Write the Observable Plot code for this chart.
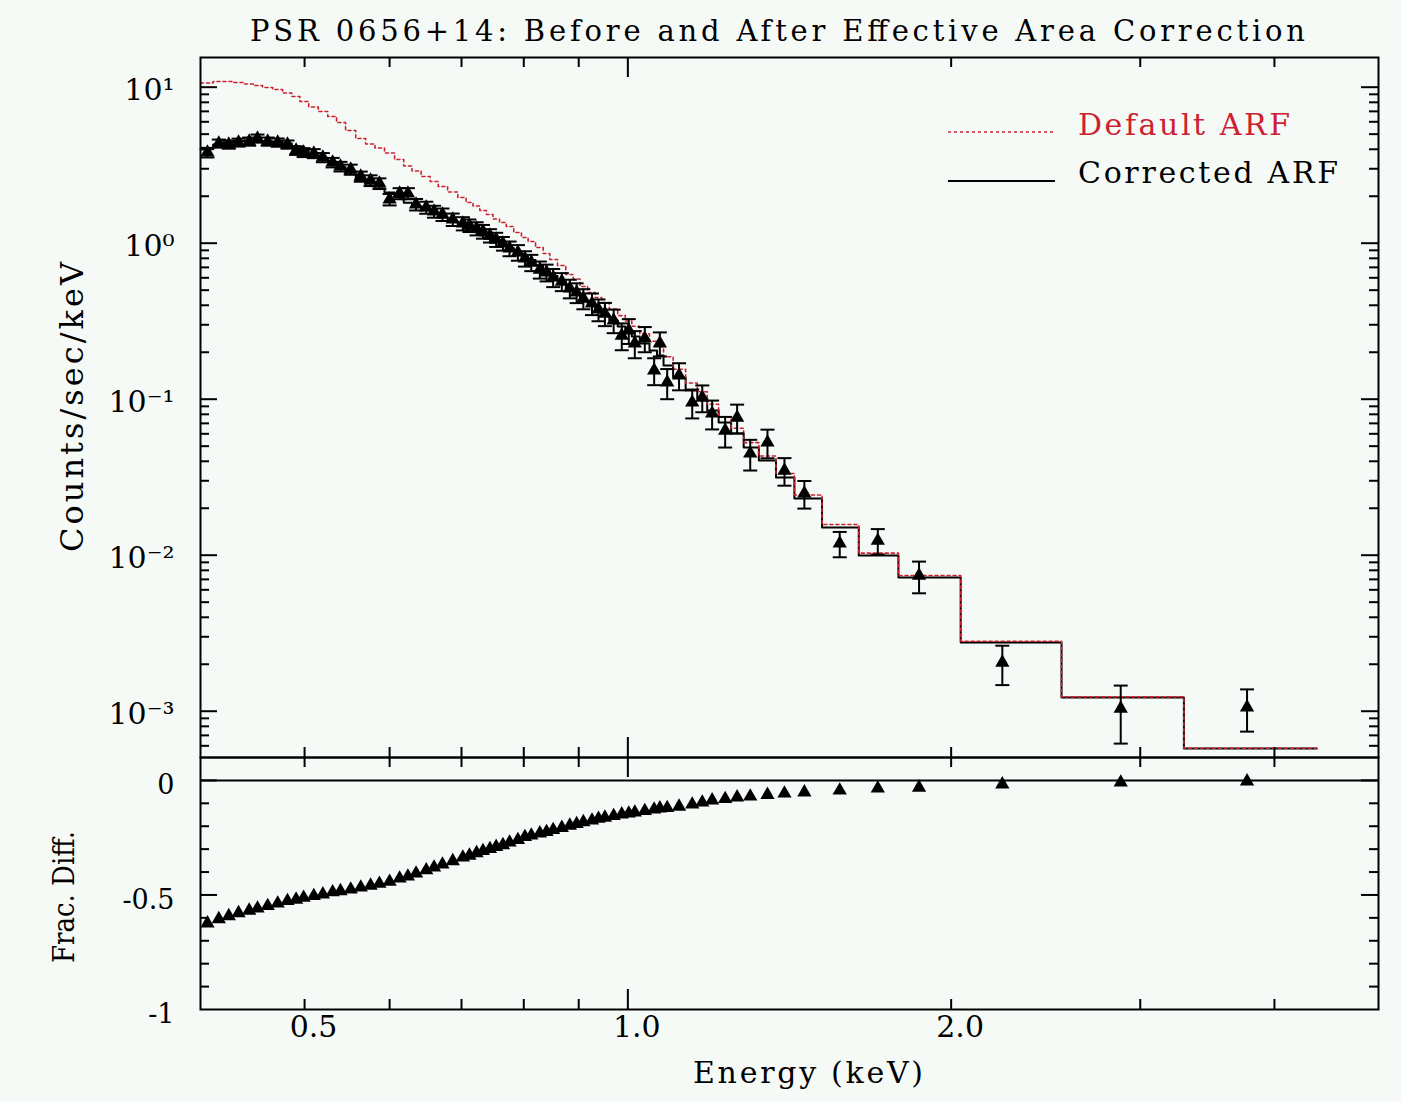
<!DOCTYPE html>
<html><head><meta charset="utf-8">
<script src="https://cdn.jsdelivr.net/npm/d3@7"></script>
<script src="https://cdn.jsdelivr.net/npm/@observablehq/plot@0.6"></script>
<style>
html,body{margin:0;padding:0;background:#f6faf7;}
#root{position:relative;width:1401px;height:1102px;background:#f6faf7;overflow:hidden;font-family:"DejaVu Serif",serif;}
#root > svg{position:absolute;left:0;}
</style></head>
<body><div id="root"></div>
<script>
// ---------------- data ----------------
const energy = [0.406,0.416,0.425,0.434,0.444,0.452,0.462,0.472,0.482,0.491,
  0.499,0.510,0.520,0.531,0.540,0.552,0.564,0.576,0.587,0.600,
  0.613,0.624,0.635,0.649,0.660,0.672,0.687,0.702,0.712,0.723,
  0.733,0.744,0.754,0.765,0.776,0.790,0.802,0.813,0.828,0.840,
  0.852,0.868,0.883,0.896,0.909,0.926,0.939,0.952,0.970,0.987,
  1.002,1.015,1.037,1.058,1.071,1.088,1.116,1.148,1.173,1.198,
  1.232,1.264,1.300,1.349,1.399,1.460,1.575,1.709,1.867,2.232,2.877,3.772];

const counts = [3.815,4.356,4.293,4.421,4.486,4.690,4.486,4.421,4.293,3.929,
  3.815,3.758,3.543,3.291,3.102,2.968,2.677,2.523,2.414,1.906,
  2.083,2.083,1.771,1.694,1.597,1.528,1.419,1.338,1.299,1.242,
  1.189,1.120,1.056,0.996,0.925,0.872,0.798,0.752,0.678,0.649,
  0.603,0.568,0.513,0.483,0.442,0.411,0.376,0.354,0.320,0.256,
  0.276,0.228,0.245,0.153,0.228,0.128,0.142,0.0953,0.1025,0.081,
  0.063,0.0763,0.0449,0.0528,0.0349,0.0249,0.0119,0.0124,0.0074,0.00205,0.00104,0.00106];

const countErr = [0.27,0.26,0.26,0.26,0.27,0.28,0.27,0.27,0.26,0.25,
  0.25,0.25,0.24,0.23,0.22,0.22,0.20,0.20,0.19,0.16,
  0.17,0.17,0.15,0.15,0.14,0.14,0.13,0.13,0.12,0.12,
  0.12,0.11,0.11,0.10,0.10,0.10,0.09,0.09,0.085,0.08,
  0.08,0.075,0.07,0.07,0.065,0.065,0.06,0.06,0.055,0.05,
  0.05,0.045,0.045,0.03,0.04,0.028,0.028,0.02,0.02,0.017,
  0.014,0.016,0.01,0.011,0.007,0.005,0.0022,0.0023,0.0017,0.00058,0.00042,0.00032];

const modelDefault = [10.64,10.88,10.88,10.72,10.48,10.25,9.96,9.67,9.18,8.716,
  8.096,7.467,6.987,6.490,5.938,5.278,4.690,4.324,4.077,3.786,
  3.440,3.126,2.903,2.677,2.486,2.309,2.129,1.963,1.823,1.732,
  1.620,1.528,1.429,1.357,1.280,1.171,1.088,1.025,0.938,0.859,
  0.786,0.720,0.630,0.590,0.528,0.483,0.4485,0.417,0.3786,0.3434,
  0.3171,0.2934,0.2626,0.2350,0.2171,0.1870,0.1555,0.1270,0.1117,0.0928,
  0.0772,0.0651,0.0527,0.0432,0.0334,0.02434,0.01573,0.01031,0.00742,0.002806,0.001235,0.000579];

const modelCorrected = [3.999,4.299,4.441,4.514,4.528,4.521,4.501,4.474,4.350,4.186,
  3.953,3.703,3.512,3.321,3.070,2.765,2.501,2.340,2.239,2.113,
  1.969,1.815,1.724,1.627,1.541,1.461,1.380,1.304,1.226,1.183,
  1.122,1.070,1.015,0.975,0.933,0.867,0.819,0.779,0.7215,0.6654,
  0.6163,0.5707,0.5056,0.4773,0.4318,0.3987,0.3736,0.3490,0.3200,0.2924,
  0.2716,0.2523,0.2276,0.2052,0.1906,0.1644,0.1377,0.1137,0.1010,0.0847,
  0.0709,0.0603,0.0490,0.0405,0.0315,0.0231,0.01505,0.00996,0.00720,0.002757,0.001224,0.000577];

const fracDiff = [-0.624,-0.605,-0.592,-0.579,-0.568,-0.559,-0.548,-0.537,-0.526,-0.520,
  -0.512,-0.504,-0.497,-0.488,-0.483,-0.476,-0.467,-0.459,-0.451,-0.442,
  -0.428,-0.419,-0.406,-0.392,-0.380,-0.367,-0.352,-0.336,-0.328,-0.317,
  -0.308,-0.299,-0.290,-0.282,-0.271,-0.260,-0.247,-0.240,-0.231,-0.225,
  -0.216,-0.207,-0.197,-0.190,-0.182,-0.175,-0.167,-0.162,-0.155,-0.148,
  -0.144,-0.140,-0.133,-0.127,-0.122,-0.120,-0.114,-0.105,-0.096,-0.087,
  -0.081,-0.074,-0.070,-0.063,-0.057,-0.052,-0.044,-0.035,-0.031,-0.017,-0.009,-0.004];

const modelEnergyMin = 0.40;   // low edge of first model bin
const modelEnergyMax = 4.38;   // high edge of last model bin

// axis guides
const xDomain = [0.4, 5.0];
const xMajorTicks = [1];
const xMinorTicks = [0.5,0.6,0.7,0.8,0.9,2,3,4];
const xLabelValues = [0.5, 1, 2];
const xLabels = ["0.5","1.0","2.0"];
const yTopDomain = [5.05e-4, 15.5];
const yTopMajor = [0.001,0.01,0.1,1,10];
const yTopLabels = ["10\u207B\u00B3","10\u207B\u00B2","10\u207B\u00B9","10\u2070","10\u00B9"];
const yTopMinor = [0.0006,0.0007,0.0008,0.0009,
  0.002,0.003,0.004,0.005,0.006,0.007,0.008,0.009,
  0.02,0.03,0.04,0.05,0.06,0.07,0.08,0.09,
  0.2,0.3,0.4,0.5,0.6,0.7,0.8,0.9,
  2,3,4,5,6,7,8,9];
const yBotDomain = [-1, 0.1];
const yBotMajor = [-0.5, 0];
const yBotMinor = [-0.9,-0.8,-0.7,-0.6,-0.4,-0.3,-0.2,-0.1];
const yBotLabelValues = [-1, -0.5, 0];
const yBotLabels = ["-1","-0.5","0"];

const titleText = "PSR 0656+14: Before and After Effective Area Correction";
const xTitle = "Energy (keV)";
const yTopTitle = "Counts/sec/keV";
const yBotTitle = "Frac. Diff.";
const legendNames = ["Default ARF", "Corrected ARF"];
const RED = "#cc2130";

// ---------------- layout ----------------
const W = 1401, ML = 200, MR = 23;
const FW = W - ML - MR;          // 1178
const TOP_FH = 700, BOT_FH = 252;
const XMAJ = 20, XMIN = 10, YMAJ = 17, YMIN = 9;
const FONT = "DejaVu Serif";
const TRI_R = 5.3;

const idx = d3.range(energy.length);
const stepPts = vals => [{e: modelEnergyMin, v: vals[0]},
  ...idx.map(i => ({e: energy[i], v: vals[i]})),
  {e: modelEnergyMax, v: vals[vals.length - 1]}];
const capSymbol = {draw(ctx) { ctx.moveTo(-7, 0); ctx.lineTo(7, 0); }};
const K = {stroke: "#000", strokeWidth: 2};

function xTickMarks(fh) {
  return [
    Plot.tickX(xMajorTicks, {x: d => d, insetTop: fh - XMAJ, ...K}),
    Plot.tickX(xMajorTicks, {x: d => d, insetBottom: fh - XMAJ, ...K}),
    Plot.tickX(xMinorTicks, {x: d => d, insetTop: fh - XMIN, ...K}),
    Plot.tickX(xMinorTicks, {x: d => d, insetBottom: fh - XMIN, ...K})
  ];
}
function yTickMarks(major, minor) {
  return [
    Plot.tickY(major, {y: d => d, insetRight: FW - YMAJ, ...K}),
    Plot.tickY(major, {y: d => d, insetLeft: FW - YMAJ, ...K}),
    Plot.tickY(minor, {y: d => d, insetRight: FW - YMIN, ...K}),
    Plot.tickY(minor, {y: d => d, insetLeft: FW - YMIN, ...K})
  ];
}

const topPlot = Plot.plot({
  width: W, height: TOP_FH + 20,
  marginTop: 10, marginBottom: 10, marginLeft: ML, marginRight: MR,
  style: {background: "transparent", fontFamily: FONT, color: "#000", overflow: "visible"},
  x: {type: "log", domain: xDomain, axis: null},
  y: {type: "log", domain: yTopDomain, axis: null},
  marks: [
    Plot.line(stepPts(modelCorrected), {x: "e", y: "v", curve: "step", stroke: "#000", strokeWidth: 2}),
    Plot.line(stepPts(modelDefault), {x: "e", y: "v", curve: "step", stroke: RED, strokeWidth: 1.6, strokeDasharray: "3,3"}),
    Plot.ruleX(idx, {x: i => energy[i], y1: i => counts[i] - countErr[i], y2: i => counts[i] + countErr[i], ...K}),
    Plot.dot(idx, {x: i => energy[i], y: i => counts[i] - countErr[i], symbol: capSymbol, fill: "none", ...K}),
    Plot.dot(idx, {x: i => energy[i], y: i => counts[i] + countErr[i], symbol: capSymbol, fill: "none", ...K}),
    Plot.dot(idx, {x: i => energy[i], y: i => counts[i], symbol: "triangle", r: TRI_R, fill: "#000", stroke: "none"}),
    ...xTickMarks(TOP_FH),
    ...yTickMarks(yTopMajor, yTopMinor),
    Plot.frame(K),
    Plot.text(yTopMajor, {y: d => d, text: (d, i) => yTopLabels[i], frameAnchor: "left", textAnchor: "end",
      dx: -26, dy: 3, fontSize: 30, fill: "#000"})
  ]
});
topPlot.style.top = "47px";

const botPlot = Plot.plot({
  width: W, height: BOT_FH + 80,
  marginTop: 10, marginBottom: 70, marginLeft: ML, marginRight: MR,
  style: {background: "transparent", fontFamily: FONT, color: "#000", overflow: "visible"},
  x: {type: "log", domain: xDomain, axis: null},
  y: {domain: yBotDomain, axis: null},
  marks: [
    Plot.ruleY([0], K),
    Plot.dot(idx, {x: i => energy[i], y: i => fracDiff[i], symbol: "triangle", r: TRI_R, fill: "#000", stroke: "none"}),
    ...xTickMarks(BOT_FH),
    ...yTickMarks(yBotMajor, yBotMinor),
    Plot.frame(K),
    Plot.text(yBotLabelValues, {y: d => d, text: (d, i) => yBotLabels[i], frameAnchor: "left", textAnchor: "end",
      dx: -26, dy: 5, fontSize: 27, fill: "#000"}),
    Plot.text(xLabelValues, {x: d => d, text: (d, i) => xLabels[i], frameAnchor: "bottom",
      dx: 9, dy: 27, fontSize: 30, fill: "#000"})
  ]
});
botPlot.style.top = "747px";

const root = document.getElementById("root");
root.appendChild(topPlot);
root.appendChild(botPlot);

// ---------------- title, axis titles and legend ----------------
const NS = "http://www.w3.org/2000/svg";
const ann = document.createElementNS(NS, "svg");
ann.setAttribute("width", W); ann.setAttribute("height", 1102);
ann.style.top = "0px"; ann.style.pointerEvents = "none";
ann.style.fontFamily = FONT;
function addText(str, attrs) {
  const t = document.createElementNS(NS, "text");
  t.textContent = str;
  for (const k in attrs) t.setAttribute(k, attrs[k]);
  ann.appendChild(t);
  return t;
}
function addLine(attrs) {
  const l = document.createElementNS(NS, "line");
  for (const k in attrs) l.setAttribute(k, attrs[k]);
  ann.appendChild(l);
}
addText(titleText, {x: 250, y: 41, "font-size": 29, textLength: 1055, lengthAdjust: "spacing", fill: "#000"});
addText(xTitle, {x: 693, y: 1083, "font-size": 30, textLength: 230, lengthAdjust: "spacing", fill: "#000"});
addText(yTopTitle, {transform: "translate(83,407) rotate(-90)", "text-anchor": "middle", "font-size": 32,
  textLength: 290, lengthAdjust: "spacing", fill: "#000"});
addText(yBotTitle, {transform: "translate(74,897) rotate(-90)", "text-anchor": "middle", "font-size": 30,
  textLength: 132, lengthAdjust: "spacingAndGlyphs", fill: "#000"});
addLine({x1: 948, x2: 1055, y1: 132, y2: 132, stroke: RED, "stroke-width": 1.6, "stroke-dasharray": "3,3"});
addLine({x1: 948, x2: 1055, y1: 181, y2: 181, stroke: "#000", "stroke-width": 2});
addText(legendNames[0], {x: 1078, y: 135, "font-size": 30, textLength: 212, lengthAdjust: "spacing", fill: RED});
addText(legendNames[1], {x: 1078, y: 183, "font-size": 30, textLength: 260, lengthAdjust: "spacing", fill: "#000"});
root.appendChild(ann);
</script></body></html>
